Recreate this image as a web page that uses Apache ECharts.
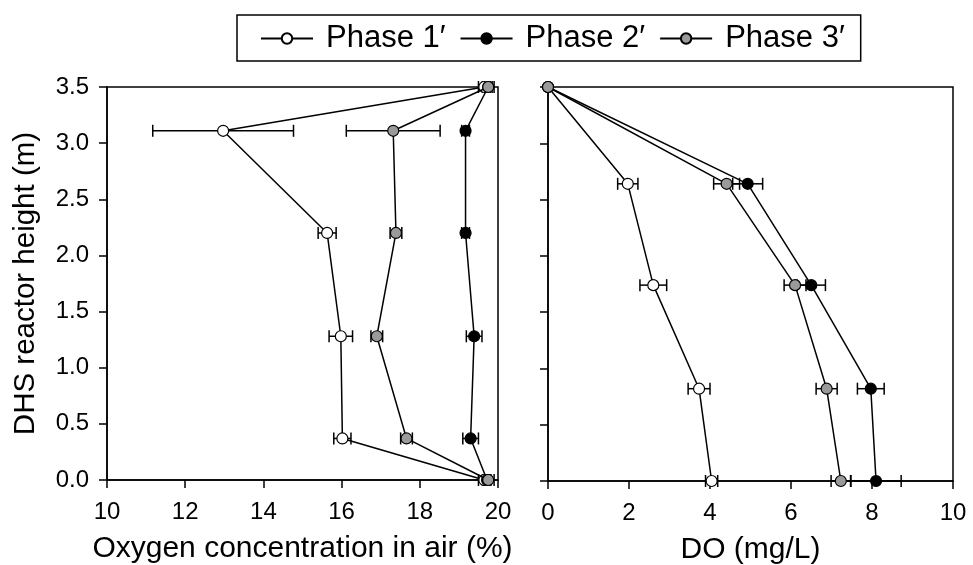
<!DOCTYPE html>
<html>
<head>
<meta charset="utf-8">
<script src="https://cdn.jsdelivr.net/npm/echarts@6/dist/echarts.min.js"></script>
<style>html,body{margin:0;padding:0;background:#fff}#c{width:973px;height:565px}</style>
</head>
<body>
<div id="c"></div>
<script>
// ---- data ----
const phaseNames = ['Phase 1\u2032', 'Phase 2\u2032', 'Phase 3\u2032'];
const heightsAir = [3.5, 3.11, 2.2, 1.28, 0.37, 0];
const air1 = [19.65, 12.97, 15.63, 15.98, 16.02, 19.65];
const air1Err = [0.15, 1.8, 0.23, 0.3, 0.22, 0.15];
const air2 = [19.75, 19.17, 19.17, 19.39, 19.3, 19.72];
const air2Err = [0.1, 0.1, 0.1, 0.2, 0.2, 0.1];
const air3 = [19.75, 17.32, 17.39, 16.9, 17.66, 19.75];
const air3Err = [0.15, 1.2, 0.15, 0.15, 0.15, 0.15];

const heightsDO = [3.5, 2.64, 1.74, 0.82, 0];
const do1 = [0, 1.97, 2.6, 3.73, 4.04];
const do1Err = [0, 0.25, 0.33, 0.27, 0.15];
const do2 = [0, 4.93, 6.5, 7.97, 8.1];
const do2Err = [0, 0.37, 0.35, 0.33, 0.62];
const do3 = [0, 4.41, 6.1, 6.88, 7.23];
const do3Err = [0, 0.32, 0.27, 0.26, 0.24];

const xTicksAir = [10, 12, 14, 16, 18, 20];
const xTicksDO = [0, 2, 4, 6, 8, 10];
const yTicks = [0, 0.5, 1.0, 1.5, 2.0, 2.5, 3.0, 3.5];

// ---- styles ----
const FONT = 'Liberation Sans, Arial, sans-serif';
const fills = ['#ffffff', '#000000', '#9a9a9a'];

function pairs(xs, ys) { return xs.map((x, i) => [x, ys[i]]); }
function errData(xs, es, ys) { return xs.map((x, i) => [x, es[i], ys[i]]); }

function lineSeries(name, idx, data, gi) {
  return {
    type: 'line', name: name, xAxisIndex: gi, yAxisIndex: gi,
    data: data, clip: false, z: 3 + idx,
    symbol: 'circle', symbolSize: 11,
    lineStyle: { color: '#000', width: 1.5 },
    itemStyle: { color: fills[idx], borderColor: '#000', borderWidth: 1.2 },
    emphasis: { disabled: true }, animation: false
  };
}

function errSeries(idx, data, gi) {
  return {
    type: 'custom', name: 'err' + gi + '_' + idx, xAxisIndex: gi, yAxisIndex: gi,
    data: data, z: 2, clip: false, animation: false,
    renderItem: function (params, api) {
      const x = api.value(0), e = api.value(1), y = api.value(2);
      if (!e) return null;
      const a = api.coord([x - e, y]);
      const b = api.coord([x + e, y]);
      const h = 6;
      const st = { stroke: '#000', lineWidth: 1.5 };
      return {
        type: 'group',
        children: [
          { type: 'line', shape: { x1: a[0], y1: a[1], x2: b[0], y2: b[1] }, style: st },
          { type: 'line', shape: { x1: a[0], y1: a[1] - h, x2: a[0], y2: a[1] + h }, style: st },
          { type: 'line', shape: { x1: b[0], y1: b[1] - h, x2: b[0], y2: b[1] + h }, style: st }
        ]
      };
    }
  };
}

const axisCommon = {
  axisLine: { show: true, onZero: false, lineStyle: { color: '#000', width: 1.5 } },
  axisTick: { show: true, inside: false, length: 8, lineStyle: { color: '#000', width: 1.5 } },
  splitLine: { show: false },
  axisLabel: { color: '#000', fontFamily: FONT, fontSize: 24 }
};

const chart = echarts.init(document.getElementById('c'), null, { renderer: 'canvas' });
chart.setOption({
  animation: false,
  backgroundColor: '#fff',
  legend: {
    data: phaseNames,
    left: 237, top: 15,
    orient: 'horizontal',
    padding: [8, 16, 7, 23],
    itemGap: 14,
    itemWidth: 52, itemHeight: 13,
    borderColor: '#000', borderWidth: 1.5,
    textStyle: { color: '#000', fontFamily: FONT, fontSize: 31, padding: [0, 0, 0, 8] },
    selectedMode: false
  },
  grid: [
    { left: 107, top: 87, width: 391, height: 393, show: true, borderColor: '#000', borderWidth: 1.5, backgroundColor: 'transparent', outerBoundsMode: 'none' },
    { left: 548, top: 87, width: 405, height: 394, show: true, borderColor: '#000', borderWidth: 1.5, backgroundColor: 'transparent', outerBoundsMode: 'none' }
  ],
  xAxis: [
    Object.assign({}, axisCommon, {
      type: 'value', gridIndex: 0, min: xTicksAir[0], max: xTicksAir[xTicksAir.length - 1], interval: 2,
      name: 'Oxygen concentration in air (%)', nameLocation: 'middle', nameGap: 54,
      nameTextStyle: { color: '#000', fontFamily: FONT, fontSize: 30 },
      axisLabel: Object.assign({}, axisCommon.axisLabel, { margin: 20 })
    }),
    Object.assign({}, axisCommon, {
      type: 'value', gridIndex: 1, min: xTicksDO[0], max: xTicksDO[xTicksDO.length - 1], interval: 2,
      name: 'DO (mg/L)', nameLocation: 'middle', nameGap: 54,
      nameTextStyle: { color: '#000', fontFamily: FONT, fontSize: 30 },
      axisLabel: Object.assign({}, axisCommon.axisLabel, { margin: 20 })
    })
  ],
  yAxis: [
    Object.assign({}, axisCommon, {
      type: 'value', gridIndex: 0, min: yTicks[0], max: yTicks[yTicks.length - 1], interval: 0.5,
      name: 'DHS reactor height (m)', nameLocation: 'middle', nameGap: 66, nameRotate: 90,
      nameTextStyle: { color: '#000', fontFamily: FONT, fontSize: 29.5 },
      axisLabel: Object.assign({}, axisCommon.axisLabel, { margin: 18, formatter: v => v.toFixed(1) })
    }),
    Object.assign({}, axisCommon, {
      type: 'value', gridIndex: 1, min: yTicks[0], max: yTicks[yTicks.length - 1], interval: 0.5,
      axisLabel: { show: false }
    })
  ],
  series: [
    errSeries(0, errData(air1, air1Err, heightsAir), 0),
    errSeries(1, errData(air2, air2Err, heightsAir), 0),
    errSeries(2, errData(air3, air3Err, heightsAir), 0),
    errSeries(0, errData(do1, do1Err, heightsDO), 1),
    errSeries(1, errData(do2, do2Err, heightsDO), 1),
    errSeries(2, errData(do3, do3Err, heightsDO), 1),
    lineSeries(phaseNames[0], 0, pairs(air1, heightsAir), 0),
    lineSeries(phaseNames[1], 1, pairs(air2, heightsAir), 0),
    lineSeries(phaseNames[2], 2, pairs(air3, heightsAir), 0),
    lineSeries(phaseNames[0], 0, pairs(do1, heightsDO), 1),
    lineSeries(phaseNames[1], 1, pairs(do2, heightsDO), 1),
    lineSeries(phaseNames[2], 2, pairs(do3, heightsDO), 1)
  ]
});
</script>
</body>
</html>
